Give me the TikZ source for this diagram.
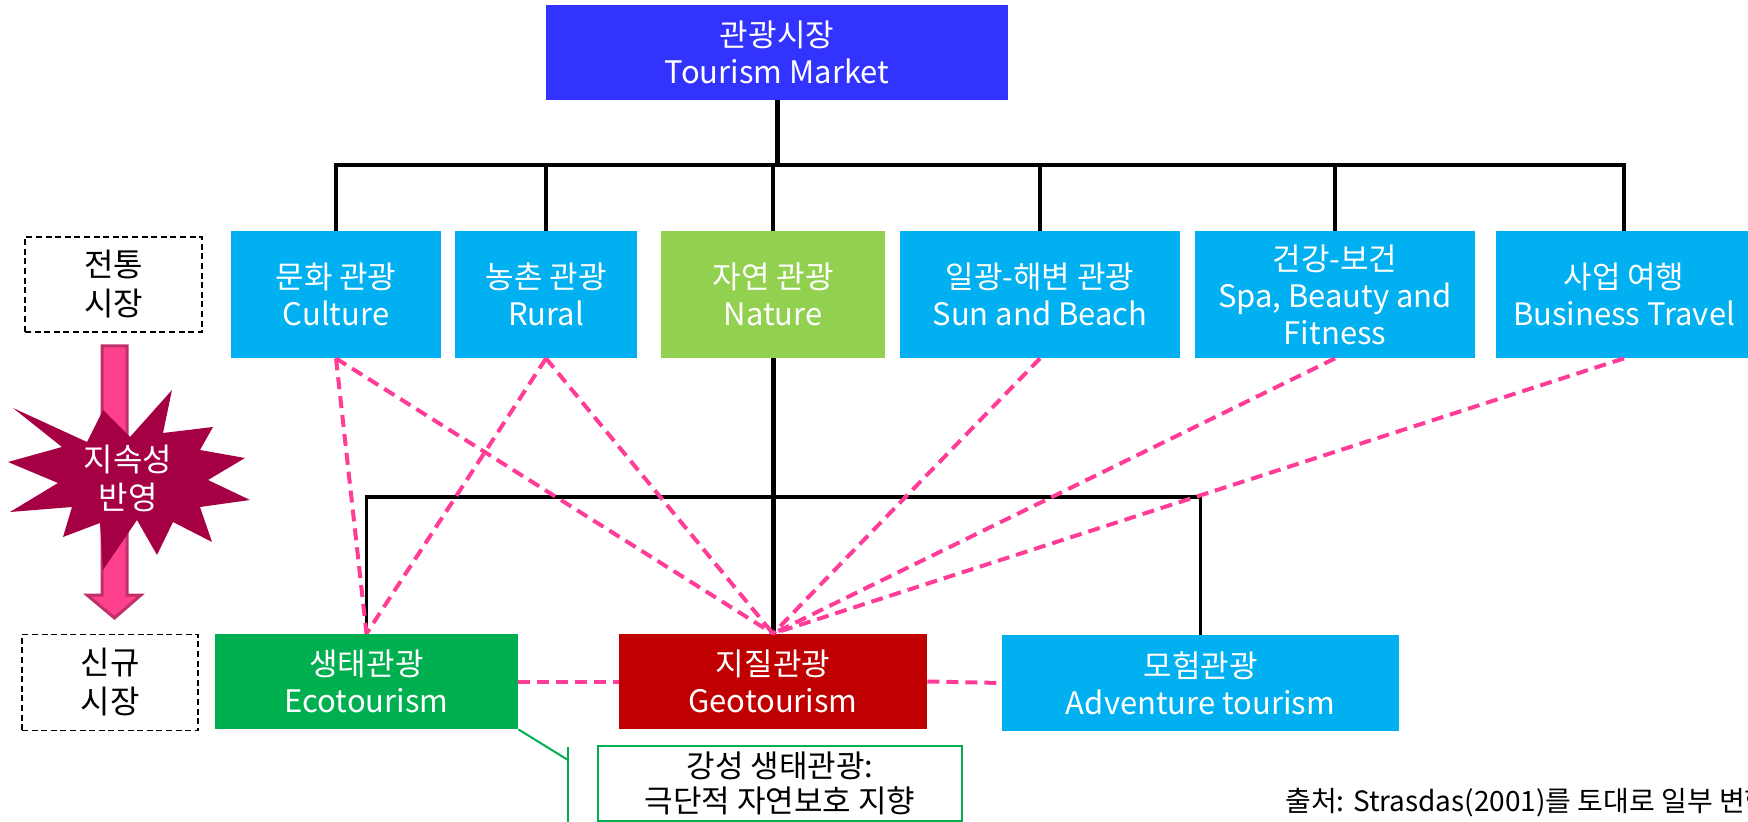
\documentclass[tikz,border=0pt]{standalone}
\usepackage{fontspec}
\setmainfont{Noto Sans CJK KR}
\definecolor{topblue}{RGB}{51,51,255}
\definecolor{skyblue}{RGB}{0,176,240}
\definecolor{natgreen}{RGB}{146,208,80}
\definecolor{ecogreen}{RGB}{0,176,80}
\definecolor{geored}{RGB}{192,0,0}
\definecolor{pinkline}{RGB}{255,60,150}
\definecolor{starred}{RGB}{165,0,68}
\definecolor{arrowpink}{RGB}{255,64,140}
\definecolor{arrowedge}{RGB}{192,48,104}
\tikzset{
  boxnode/.style={rectangle, inner sep=0pt, align=center, text=white,
    font=\fontsize{15.5}{18.5}\selectfont},
  labelbox/.style={rectangle, inner sep=0pt, align=center, text=black, draw=black,
    line width=0.75pt, dash pattern=on 3pt off 1.8pt,
    font=\fontsize{16}{19.5}\selectfont},
  branch/.style={draw=black, line width=1.75pt},
  trunk/.style={draw=black, line width=2.5pt},
  pinkdash/.style={draw=pinkline, line width=2pt, dash pattern=on 6pt off 3.5pt},
  callline/.style={draw=ecogreen, line width=1pt}
}
\begin{document}
\begin{tikzpicture}[x=0.5pt, y=-0.5pt]
\useasboundingbox (0,0) rectangle (1748,822);
\clip (0,0) rectangle (1748,822);

% top node
\node[boxnode, fill=topblue, minimum width=231pt, minimum height=47.5pt] (top) at (777,52.5) {관광시장\\Tourism Market};

% traditional market row
\node[boxnode, fill=skyblue, minimum width=105pt, minimum height=63.5pt] (cult) at (336,294.5) {문화 관광\\Culture};
\node[boxnode, fill=skyblue, minimum width=91pt, minimum height=63.5pt] (rural) at (546,294.5) {농촌 관광\\Rural};
\node[boxnode, fill=natgreen, minimum width=112pt, minimum height=63.5pt] (nat) at (773,294.5) {자연 관광\\Nature};
\node[boxnode, fill=skyblue, minimum width=140pt, minimum height=63.5pt] (sun) at (1040,294.5) {일광-해변 관광\\Sun and Beach};
\node[boxnode, fill=skyblue, minimum width=140pt, minimum height=63.5pt] (spa) at (1335,294.5) {건강-보건\\Spa, Beauty and\\Fitness};
\node[boxnode, fill=skyblue, minimum width=128pt, minimum height=63.5pt] (bus) at (1624,294.5) {사업 여행\\Business Travel};

% new market row
\node[boxnode, fill=ecogreen, minimum width=151.5pt, minimum height=47.5pt] (eco) at (366.5,681.5) {생태관광\\Ecotourism};
\node[boxnode, fill=geored, minimum width=154pt, minimum height=47.5pt] (geo) at (773,681.5) {지질관광\\Geotourism};
\node[boxnode, fill=skyblue, minimum width=198.5pt, minimum height=48pt] (adv) at (1200.5,683) {모험관광\\Adventure tourism};

% left labels
\node[labelbox, minimum width=88.5pt, minimum height=47.5pt] (lab1) at (113.5,284.5) {전통\\시장};
\node[labelbox, minimum width=88pt, minimum height=48pt] (lab2) at (110,682.5) {신규\\시장};

% junction coordinates
\coordinate (j0) at (777,165);
\coordinate (j1) at (773,497);

% black tree connectors
\draw[trunk] (top.south) -- (j0);
\draw[branch] (cult.north) -- (cult.north |- j0) -- (bus.north |- j0) -- (bus.north);
\draw[branch] (rural.north) -- (rural.north |- j0);
\draw[branch] (nat.north) -- (nat.north |- j0);
\draw[branch] (sun.north) -- (sun.north |- j0);
\draw[branch] (spa.north) -- (spa.north |- j0);
\draw[branch] (eco.north) -- (eco.north |- j1) -- (adv.north |- j1) -- (adv.north);
\draw[trunk] (nat.south) -- (geo.north);

% pink dashed relations
\draw[pinkdash] (cult.south) -- (eco.north);
\draw[pinkdash] (cult.south) -- (geo.north);
\draw[pinkdash] (rural.south) -- (eco.north);
\draw[pinkdash] (rural.south) -- (geo.north);
\draw[pinkdash] (sun.south) -- (geo.north);
\draw[pinkdash] (spa.south) -- (geo.north);
\draw[pinkdash] (bus.south) -- (geo.north);
\draw[pinkdash] (eco.east) -- (geo.west);
\draw[pinkdash] (geo.east) -- (adv.west);

% callout
\node[rectangle, draw=ecogreen, line width=1pt, inner sep=0pt, minimum width=182pt, minimum height=37.5pt,
  align=center, text=black, font=\fontsize{15.5}{17.5}\selectfont] (call) at (780,783.5) {강성 생태관광:\\극단적 자연보호 지향};
\coordinate (cA) at (568,760);
\coordinate (cT) at (568,747);
\coordinate (cB) at (568,830);
\draw[callline] (eco.south east) -- (cA);
\draw[callline] (cT) -- (cB);

% source
\node[anchor=west, inner sep=0pt, text=black, font=\fontsize{14}{16}\selectfont] (src) at (1285,803) {출처: Strasdas(2001)를 토대로 일부 변형};

% pink down arrow
\draw[fill=arrowpink, draw=arrowedge, line width=1.5pt, line join=miter]
  (102,346) -- (127,346) -- (127,595) -- (141,595) -- (114.5,618) -- (87,595) -- (102,595) -- cycle;

% explosion star
\fill[starred] (13,408) -- (87,442) -- (103,410) -- (130,437) -- (172,390) -- (163,433)
  -- (213,427) -- (200,450) -- (245,458) -- (208,480) -- (250,500) -- (200,507)
  -- (212,542) -- (173,522) -- (157,555) -- (137,520) -- (103,570) -- (100,523)
  -- (63,537) -- (72,507) -- (10,512) -- (58,483) -- (8,462) -- (62,447) -- cycle;
\node[align=center, text=white, inner sep=0pt, font=\fontsize{16}{19}\selectfont] (star) at (128,478) {지속성\\반영};

\end{tikzpicture}
\end{document}
